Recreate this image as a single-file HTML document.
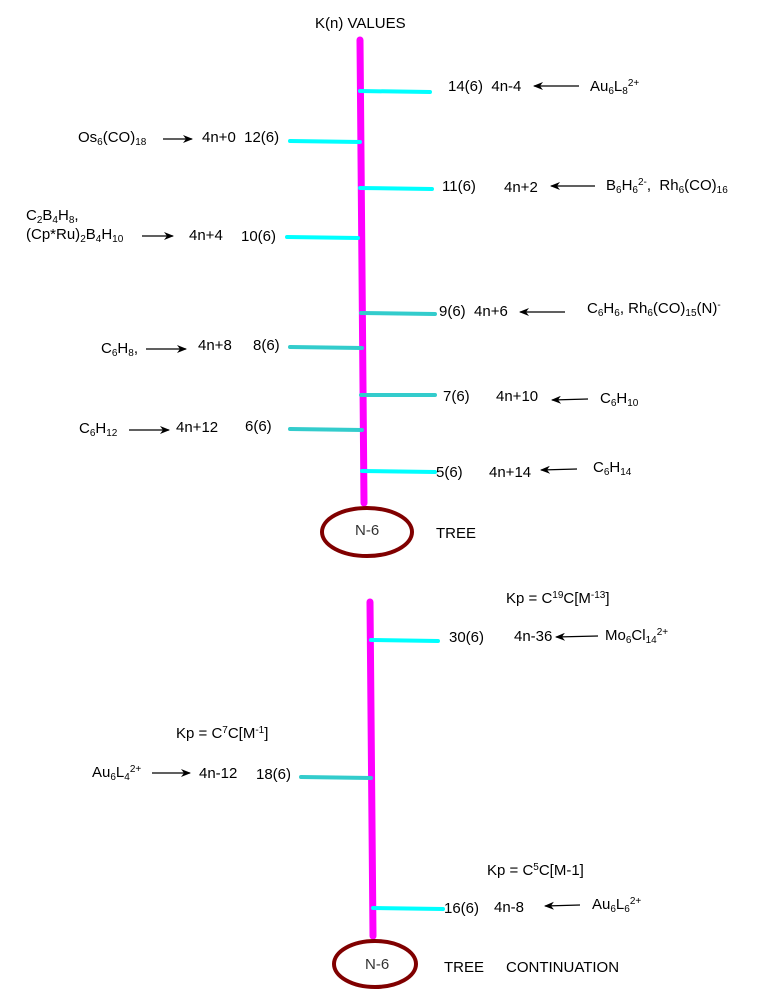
<!DOCTYPE html>
<html><head><meta charset="utf-8"><style>
html,body{margin:0;padding:0;background:#fff;}
#c{position:relative;width:772px;height:1001px;overflow:hidden;font-family:"Liberation Sans",sans-serif;font-size:15px;color:#000;}
.t{position:absolute;white-space:nowrap;line-height:16px;transform:translateY(-8px);}
sub{font-size:10px;vertical-align:-3px;line-height:0;}
sup{font-size:10px;vertical-align:5px;line-height:0;}
svg{position:absolute;left:0;top:0;}
</style></head><body><div id="c">
<svg width="772" height="1001">
<defs><marker id="a" markerWidth="10" markerHeight="8" refX="9" refY="4" orient="auto" markerUnits="userSpaceOnUse"><path d="M0,0 L10,4 L0,8 L3,4 z" fill="#000"/></marker></defs>
<g stroke="#ff00ff" stroke-width="7" stroke-linecap="round"><line x1="360" y1="40" x2="364" y2="503"/><line x1="370" y1="602" x2="373" y2="936"/></g>
<g stroke-width="4" stroke-linecap="round">
<line x1="360" y1="91" x2="430" y2="92" stroke="#00ffff"/>
<line x1="290" y1="141" x2="360" y2="142" stroke="#00ffff"/>
<line x1="360" y1="188" x2="432" y2="189" stroke="#00ffff"/>
<line x1="287" y1="237" x2="358" y2="238" stroke="#00ffff"/>
<line x1="361" y1="313" x2="435" y2="314" stroke="#33cccc"/>
<line x1="290" y1="347" x2="362" y2="348" stroke="#33cccc"/>
<line x1="361" y1="395" x2="435" y2="395" stroke="#33cccc"/>
<line x1="290" y1="429" x2="362" y2="430" stroke="#33cccc"/>
<line x1="362" y1="471" x2="435" y2="472" stroke="#00ffff"/>
<line x1="371" y1="640" x2="438" y2="641" stroke="#00ffff"/>
<line x1="301" y1="777" x2="371" y2="778" stroke="#33cccc"/>
<line x1="373" y1="908" x2="443" y2="909" stroke="#00ffff"/>
</g>
<g fill="none" stroke="#800000" stroke-width="4"><ellipse cx="367" cy="532" rx="45" ry="24"/><ellipse cx="375" cy="964" rx="41" ry="23"/></g>
<g stroke="#000" stroke-width="1.2" marker-end="url(#a)">
<line x1="163" y1="139" x2="192" y2="139"/>
<line x1="142" y1="236" x2="173" y2="236"/>
<line x1="146" y1="349" x2="186" y2="349"/>
<line x1="129" y1="430" x2="169" y2="430"/>
<line x1="152" y1="773" x2="190" y2="773"/>
<line x1="579" y1="86" x2="534" y2="86"/>
<line x1="595" y1="186" x2="551" y2="186"/>
<line x1="565" y1="312" x2="520" y2="312"/>
<line x1="588" y1="399" x2="552" y2="400"/>
<line x1="577" y1="469" x2="541" y2="470"/>
<line x1="598" y1="636" x2="556" y2="637"/>
<line x1="580" y1="905" x2="545" y2="906"/>
</g>
</svg>
<div class="t" style="left:315px;top:24px">K(n) VALUES</div>
<div class="t" style="left:448px;top:87px">14(6)&nbsp; 4n-4</div>
<div class="t" style="left:590px;top:87px">Au<sub>6</sub>L<sub>8</sub><sup>2+</sup></div>
<div class="t" style="left:78px;top:138px">Os<sub>6</sub>(CO)<sub>18</sub></div>
<div class="t" style="left:202px;top:138px">4n+0&nbsp; 12(6)</div>
<div class="t" style="left:442px;top:187px">11(6)</div>
<div class="t" style="left:504px;top:188px">4n+2</div>
<div class="t" style="left:606px;top:186px">B<sub>6</sub>H<sub>6</sub><sup>2-</sup>,&nbsp; Rh<sub>6</sub>(CO)<sub>16</sub></div>
<div class="t" style="left:26px;top:216px">C<sub>2</sub>B<sub>4</sub>H<sub>8</sub>,</div>
<div class="t" style="left:26px;top:235px">(Cp*Ru)<sub>2</sub>B<sub>4</sub>H<sub>10</sub></div>
<div class="t" style="left:189px;top:236px">4n+4</div>
<div class="t" style="left:241px;top:237px">10(6)</div>
<div class="t" style="left:439px;top:312px">9(6)&nbsp; 4n+6</div>
<div class="t" style="left:587px;top:309px">C<sub>6</sub>H<sub>6</sub>, Rh<sub>6</sub>(CO)<sub>15</sub>(N)<sup>-</sup></div>
<div class="t" style="left:101px;top:349px">C<sub>6</sub>H<sub>8</sub>,</div>
<div class="t" style="left:198px;top:346px">4n+8</div>
<div class="t" style="left:253px;top:346px">8(6)</div>
<div class="t" style="left:443px;top:397px">7(6)</div>
<div class="t" style="left:496px;top:397px">4n+10</div>
<div class="t" style="left:600px;top:399px">C<sub>6</sub>H<sub>10</sub></div>
<div class="t" style="left:79px;top:429px">C<sub>6</sub>H<sub>12</sub></div>
<div class="t" style="left:176px;top:428px">4n+12</div>
<div class="t" style="left:245px;top:427px">6(6)</div>
<div class="t" style="left:436px;top:473px">5(6)</div>
<div class="t" style="left:489px;top:473px">4n+14</div>
<div class="t" style="left:593px;top:468px">C<sub>6</sub>H<sub>14</sub></div>
<div class="t" style="left:355px;top:531px;color:#333">N-6</div>
<div class="t" style="left:436px;top:534px">TREE</div>
<div class="t" style="left:506px;top:599px">Kp = C<sup>19</sup>C[M<sup>-13</sup>]</div>
<div class="t" style="left:449px;top:638px">30(6)</div>
<div class="t" style="left:514px;top:637px">4n-36</div>
<div class="t" style="left:605px;top:636px">Mo<sub>6</sub>Cl<sub>14</sub><sup>2+</sup></div>
<div class="t" style="left:176px;top:734px">Kp = C<sup>7</sup>C[M<sup>-1</sup>]</div>
<div class="t" style="left:92px;top:773px">Au<sub>6</sub>L<sub>4</sub><sup>2+</sup></div>
<div class="t" style="left:199px;top:774px">4n-12</div>
<div class="t" style="left:256px;top:775px">18(6)</div>
<div class="t" style="left:487px;top:871px">Kp = C<sup>5</sup>C[M-1]</div>
<div class="t" style="left:444px;top:909px">16(6)</div>
<div class="t" style="left:494px;top:908px">4n-8</div>
<div class="t" style="left:592px;top:905px">Au<sub>6</sub>L<sub>6</sub><sup>2+</sup></div>
<div class="t" style="left:365px;top:965px;color:#333">N-6</div>
<div class="t" style="left:444px;top:968px">TREE</div>
<div class="t" style="left:506px;top:968px">CONTINUATION</div>
</div></body></html>
